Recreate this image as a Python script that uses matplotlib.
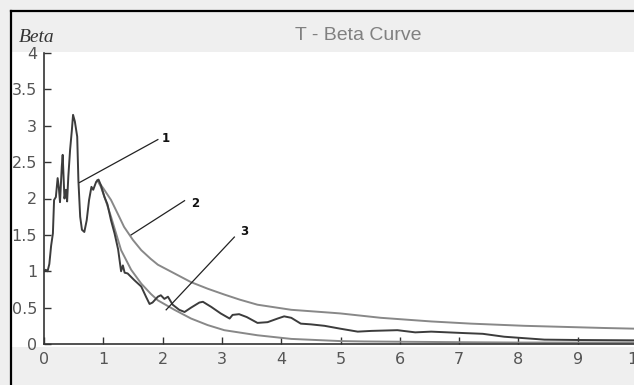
import matplotlib
matplotlib.use("Agg")
import matplotlib.pyplot as plt
from matplotlib.lines import Line2D
from matplotlib.patches import Rectangle

# measured beta response (curve 1)
t_meas = [0.0, 0.03, 0.06, 0.09, 0.12, 0.15, 0.17, 0.2, 0.23, 0.25, 0.27, 0.3, 0.315,
          0.33, 0.345, 0.37, 0.39, 0.41, 0.44, 0.47, 0.49, 0.52, 0.56, 0.58, 0.61,
          0.64, 0.68, 0.72, 0.76, 0.8, 0.83, 0.88, 0.92, 0.96, 1.02, 1.07, 1.13, 1.19,
          1.25, 1.3, 1.33, 1.36, 1.41, 1.52, 1.64, 1.72, 1.78, 1.83, 1.92, 1.97, 2.03,
          2.09, 2.17, 2.28, 2.37, 2.48, 2.62, 2.68, 2.82, 2.98, 3.13, 3.18, 3.29, 3.42,
          3.6, 3.77, 3.94, 4.05, 4.17, 4.33, 4.5, 4.73, 5.0, 5.29, 5.52, 5.96, 6.26,
          6.53, 7.09, 7.4, 7.76, 8.44, 9.0, 10.0]
beta_meas = [1.0, 1.02, 1.0, 1.1, 1.35, 1.52, 1.98, 2.02, 2.28, 2.15, 1.95, 2.44, 2.6,
             2.3, 2.0, 2.12, 1.96, 2.3, 2.67, 2.94, 3.15, 3.06, 2.85, 2.25, 1.75,
             1.57, 1.54, 1.7, 1.98, 2.16, 2.12, 2.23, 2.26, 2.18, 2.02, 1.92, 1.7, 1.52,
             1.3, 1.0, 1.08, 0.98, 0.97, 0.88, 0.79, 0.65, 0.55, 0.57, 0.65, 0.67, 0.62,
             0.65, 0.54, 0.47, 0.44, 0.5, 0.57, 0.58, 0.51, 0.42, 0.35, 0.4, 0.41, 0.37,
             0.29, 0.3, 0.35, 0.38, 0.36, 0.28, 0.27, 0.25, 0.21, 0.17, 0.18, 0.19, 0.16,
             0.17, 0.15, 0.14, 0.1, 0.06, 0.055, 0.05]

# upper envelope (curve 2)
t_upper = [0.9, 1.0, 1.13, 1.25, 1.35, 1.5, 1.64, 1.8, 1.92, 2.2, 2.48, 2.76, 3.04,
           3.3, 3.6, 4.17, 4.84, 5.0, 5.68, 6.53, 7.2, 8.1, 9.45, 10.0]
beta_upper = [2.25, 2.14, 1.98, 1.78, 1.61, 1.43, 1.29, 1.17, 1.09, 0.97, 0.85, 0.76,
              0.68, 0.61, 0.54, 0.47, 0.43, 0.42, 0.36, 0.31, 0.28, 0.25, 0.22, 0.21]

# lower envelope (curve 3)
t_lower = [0.9, 0.96, 1.05, 1.13, 1.3, 1.47, 1.64, 1.8, 1.92, 2.2, 2.48, 2.76, 3.04,
           3.6, 4.17, 5.0, 5.4, 6.2, 7.0, 8.0, 10.0]
beta_lower = [2.25, 2.16, 1.95, 1.75, 1.29, 1.02, 0.83, 0.69, 0.6, 0.47, 0.35, 0.26,
              0.19, 0.12, 0.07, 0.04, 0.035, 0.03, 0.025, 0.02, 0.02]

x_ticks = [0, 1, 2, 3, 4, 5, 6, 7, 8, 9, 10]
y_ticks = [0, 0.5, 1, 1.5, 2, 2.5, 3, 3.5, 4]
y_tick_labels = ["0", "0.5", "1", "1.5", "2", "2.5", "3", "3.5", "4"]

# curve number labels: (line start, line end, text position, text)
callouts = [
    ((0.6, 2.22), (1.92, 2.81), (1.98, 2.83), "1"),
    ((1.47, 1.5), (2.37, 1.97), (2.48, 1.93), "2"),
    ((2.06, 0.47), (3.21, 1.47), (3.3, 1.54), "3"),
]

W, H = 634, 385
fig = plt.figure(figsize=(W / 100, H / 100), dpi=100, facecolor="#efefef")

# white panel behind the plot and the window frame
fig.patches.append(Rectangle((11 / W, 1 - 347 / H), 1, (347 - 52) / H,
                             transform=fig.transFigure, facecolor="white",
                             edgecolor="none", zorder=-10))
fig.lines.append(Line2D([11 / W, 1], [1 - 10.5 / H] * 2, transform=fig.transFigure,
                        color="black", lw=1.6))
fig.lines.append(Line2D([11 / W] * 2, [0, 1 - 10.5 / H], transform=fig.transFigure,
                        color="black", lw=1.6))

ax = fig.add_axes([44 / W, 41 / H, 593 / W, 291 / H])
ax.set_facecolor("white")

ax.plot(t_upper, beta_upper, color="#888888", lw=1.4)
ax.plot(t_lower, beta_lower, color="#888888", lw=1.4)
ax.plot(t_meas, beta_meas, color="#3c3c3c", lw=1.4)

for (x0, y0), (x1, y1), (tx, ty), s in callouts:
    ax.plot([x0, x1], [y0, y1], color="#222222", lw=0.9)
    ax.text(tx, ty, s, fontsize=8.5, fontweight="bold", ha="left", va="center",
            color="#111111")

ax.set_xlim(0, 10)
ax.set_ylim(0, 4)
ax.set_xticks(x_ticks)
ax.set_yticks(y_ticks)
ax.set_yticklabels(y_tick_labels)
ax.tick_params(direction="in", length=5, width=1, color="#333333",
               labelcolor="#555555", labelsize=11.5)
ax.tick_params(axis="x", pad=6)
ax.tick_params(axis="y", pad=5)
for side in ["top", "right"]:
    ax.spines[side].set_visible(False)
for side in ["left", "bottom"]:
    ax.spines[side].set_color("#333333")
    ax.spines[side].set_linewidth(1.2)

fig.text(19 / W, 1 - 38 / H, "Beta", family="Liberation Serif", style="italic",
         fontsize=14, color="#333333", ha="left", va="center")
fig.text(358 / W, 1 - 36 / H, "T - Beta Curve", family="Liberation Sans",
         fontsize=14, color="#808080", ha="center", va="center")

fig.savefig("out.png", dpi=100, facecolor=fig.get_facecolor())
